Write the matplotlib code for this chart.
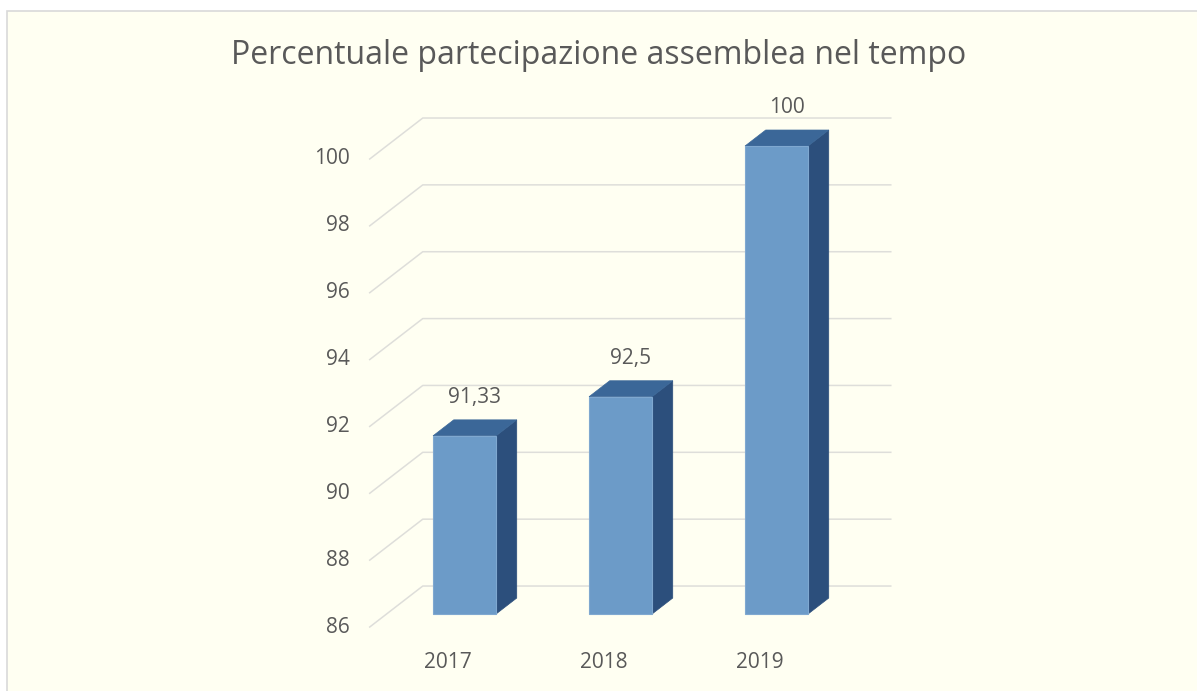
import matplotlib.pyplot as plt
from matplotlib.patches import Polygon, Rectangle

plt.rcParams['font.family'] = ['Open Sans', 'DejaVu Sans']

# dati
anni = ['2017', '2018', '2019']
percentuali = [91.33, 92.5, 100]
etichette = ['91,33', '92,5', '100']
y_ticks = [86, 88, 90, 92, 94, 96, 98, 100]

titolo = 'Percentuale partecipazione assemblea nel tempo'

# colori
sfondo = '#FFFFF2'
c_fronte = '#6C9BC8'
c_sopra = '#3B6798'
c_lato = '#2C4F7C'
c_griglia = '#DEDEDA'
c_testo = '#595959'

# proiezione obliqua (in unita dati)
dx, dy = 0.340, 1.226      # profondita totale del pavimento
t_f, t_b = 0.317, 0.707    # profondita fronte / retro delle barre
w = 0.404                  # larghezza barra
base = 86

fig = plt.figure(figsize=(11.97, 6.91), dpi=100)
fig.patch.set_facecolor('white')
ax = fig.add_axes([0, 0, 1, 1])
ax.set_xlim(-2.870, 4.803)
ax.set_ylim(84.086, 104.756)
ax.axis('off')

# area grafico
ax.add_patch(Rectangle((0, 0), 1, 1, transform=ax.transAxes, facecolor='white', zorder=0))
ax.add_patch(Rectangle((7 / 1197, -0.01), 1.0, 0.01 + 680 / 691, transform=ax.transAxes,
                       facecolor=sfondo, edgecolor='#D9D9D9', lw=1.2, zorder=0.5))

# griglia + etichette asse y
for v in y_ticks:
    ax.plot([-0.5, -0.5 + dx, 2.5 + dx], [v, v + dy, v + dy], color=c_griglia, lw=1.1, zorder=1)
    ax.text(-0.63, v, str(v), ha='right', va='center', fontsize=15, color=c_testo)

# barre 3D
ox, oy = (t_b - t_f) * dx, (t_b - t_f) * dy
for i, (val, lab) in enumerate(zip(percentuali, etichette)):
    x0 = i - w / 2 + t_f * dx
    x1 = x0 + w
    yb = base + t_f * dy
    yt = val + t_f * dy
    lato = Polygon([(x1, yb), (x1 + ox, yb + oy), (x1 + ox, yt + oy), (x1, yt)],
                   closed=True, facecolor=c_lato, edgecolor=c_lato, lw=0.5, zorder=3)
    sopra = Polygon([(x0, yt), (x1, yt), (x1 + ox, yt + oy), (x0 + ox, yt + oy)],
                    closed=True, facecolor=c_sopra, edgecolor=c_sopra, lw=0.5, zorder=3)
    fronte = Polygon([(x0, yb), (x1, yb), (x1, yt), (x0, yt)],
                     closed=True, facecolor=c_fronte, edgecolor='#7FA8D0', lw=0.8, zorder=4)
    ax.add_patch(lato)
    ax.add_patch(sopra)
    ax.add_patch(fronte)
    xc = i + (t_f + t_b) / 2 * dx
    ax.text(xc, val + t_b * dy + 0.66, lab, ha='center', va='center', fontsize=15, color=c_testo)
    ax.text(i, 84.95, anni[i], ha='center', va='center', fontsize=15, color=c_testo)

fig.text(0.5, 1 - 55 / 691, titolo, ha='center', va='center', fontsize=23, color=c_testo)

fig.savefig('out.png', dpi=100, facecolor='white')
